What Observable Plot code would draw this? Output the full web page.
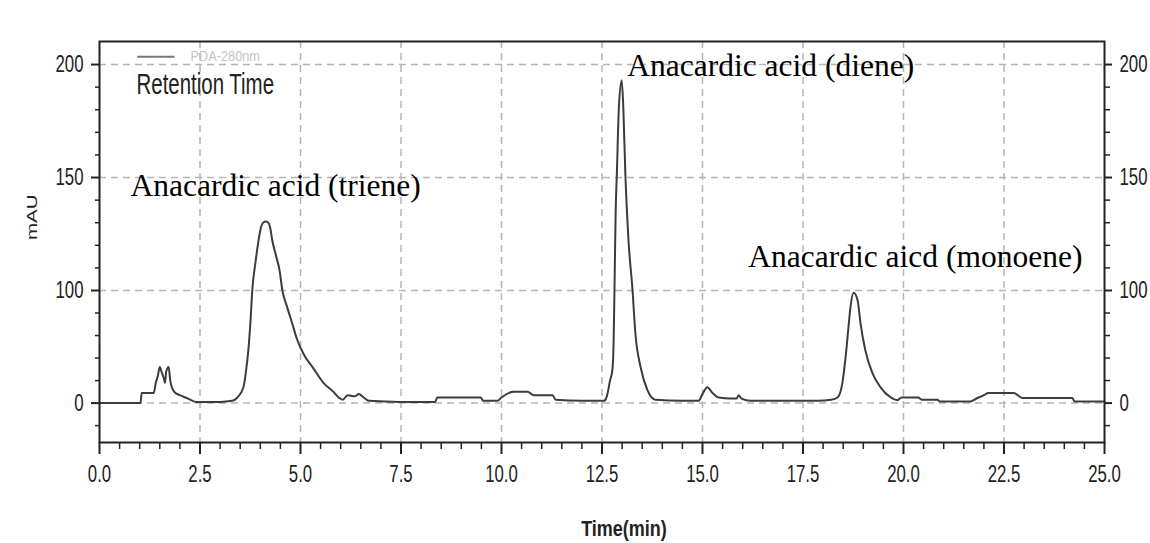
<!DOCTYPE html>
<html><head><meta charset="utf-8">
<script src="https://cdn.jsdelivr.net/npm/d3@7"></script>
<script src="https://cdn.jsdelivr.net/npm/@observablehq/plot@0.6"></script>
<style>
html,body{margin:0;padding:0;background:#fff;}
#chart svg{display:block;}
</style></head><body><div id="chart"></div>
<script>
// Retention time (min) and detector signal (mAU)
const time = [
  0.00, 1.02, 1.05, 1.35, 1.40, 1.45, 1.50, 1.55, 1.60, 1.63, 1.66, 1.72, 1.76, 1.80, 1.86, 2.00, 2.20, 2.40, 3.00, 3.30,
  3.43, 3.58, 3.65, 3.71, 3.76, 3.80, 3.88, 3.955, 4.005, 4.067, 4.13, 4.20, 4.25, 4.30, 4.39, 4.48, 4.55, 4.67, 4.80, 4.92,
  5.10, 5.30, 5.57, 5.82, 5.95, 6.05, 6.17, 6.35, 6.45, 6.57, 6.70, 7.50, 8.35, 8.40, 9.48, 9.55, 9.90, 10.00, 10.30, 10.65,
  10.80, 11.27, 11.35, 12.00, 12.55, 12.62, 12.70, 12.76, 12.79, 12.81, 12.84, 12.87, 12.92, 12.99, 13.03, 13.08, 13.16, 13.26, 13.33, 13.46,
  13.63, 13.83, 14.50, 14.90, 15.00, 15.12, 15.25, 15.40, 15.70, 15.85, 15.90, 15.97, 16.20, 17.86, 18.20, 18.36, 18.48, 18.56, 18.63, 18.68,
  18.76, 18.86, 18.93, 19.05, 19.23, 19.43, 19.68, 19.85, 19.95, 20.37, 20.45, 20.85, 20.90, 21.67, 21.84, 22.00, 22.11, 22.74, 22.96, 24.20,
  24.25, 25.00
];
const signal = [
  0, 0, 9, 9, 18, 24, 32, 27, 22, 18, 28, 32, 20, 14, 10, 7, 4, 1, 1, 2,
  5, 14, 30, 50, 75, 100, 112.4, 122, 127, 129.9, 130.5, 130, 127.4, 122, 115.5, 108.8, 100, 85, 70, 56,
  42, 32, 18, 10, 5, 3, 7, 6, 8, 5, 2, 1, 1, 5, 5, 2, 2, 5, 10, 10,
  7, 7, 3, 2, 2, 6, 20, 30, 56, 100, 135, 152, 181, 193, 181, 152, 122, 100, 62, 32,
  11.5, 3, 2, 2, 8, 14, 9, 5, 4, 4, 7, 4, 2, 2, 3, 5, 18, 41, 67, 85,
  98, 91, 71, 47, 26.5, 14, 5, 2.6, 5, 5, 3, 3, 1.5, 1.5, 4.5, 7, 9, 9, 4.5, 4.5,
  1.5, 1.5
];

// Axis ticks
const xTicks = [0, 2.5, 5, 7.5, 10, 12.5, 15, 17.5, 20, 22.5, 25];
const xMinor = d3.range(0, 25.001, 0.5).filter(v => Math.abs(v / 2.5 - Math.round(v / 2.5)) > 1e-6);
const yTicks = [0, 100, 150, 200];
const yMinor = [-20, 20, 40, 60, 80, 110, 120, 130, 140, 160, 170, 180, 190];

// Peak annotations
const peakLabels = ["Anacardic acid (triene)", "Anacardic acid (diene)", "Anacardic aicd (monoene)"];
const peakLabelTime = [0.77, 13.13, 16.14];
const peakLabelSignal = [142, 195, 110.6];

// Legend and axis titles
const legendSeries = "PDA-280nm";
const legendTitle = "Retention Time";
const legendSwatch = {t1: 0.95, t2: 1.88, v: 203.5};
const xTitle = "Time(min)";
const yTitle = "mAU";

const W = 1150, H = 543;
const mt = 41, mb = 101, ml = 99, mr = 46;
const yBreakPx = 290; // the chart's axis is compressed below 100

const trace = time.map((t, i) => ({t, v: signal[i]}));
const peaks = peakLabels.map((s, i) => ({s, t: peakLabelTime[i], v: peakLabelSignal[i]}));

const sans = '"Liberation Sans",Arial,sans-serif';
const serif = '"Liberation Serif","Times New Roman",serif';
const ink = "#222";
const grid = {stroke: "#b5b5b5", strokeOpacity: 1, strokeWidth: 1.5, strokeDasharray: "7,5"};
const tickFs = 23.4;

const chart = Plot.plot({
  width: W, height: H,
  marginTop: mt, marginBottom: mb, marginLeft: ml, marginRight: mr,
  style: {fontFamily: sans, fontSize: "20px", background: "#fff", color: ink, overflow: "visible"},
  x: {domain: [0, 25], label: null},
  y: {type: "linear", domain: [-35, 100, 210.2], range: [H - mb, yBreakPx, mt], label: null},
  marks: [
    Plot.gridX(xTicks.slice(1, -1), grid),
    Plot.gridY(yTicks, grid),
    Plot.line(trace, {x: "t", y: "v", stroke: "#3c3c3c", strokeWidth: 2, curve: "monotone-x"}),
    Plot.frame({stroke: ink, strokeWidth: 2}),
    Plot.axisX(xTicks, {anchor: "bottom", tickSize: 12, tickPadding: 11, tickFormat: d3.format(".1f"), fontSize: tickFs, label: null, strokeWidth: 2}),
    Plot.axisX(xMinor, {anchor: "bottom", tickSize: 7, tickFormat: () => "", label: null, strokeWidth: 1.5}),
    Plot.axisY(yTicks, {anchor: "left", tickSize: 8, tickPadding: 8, tickFormat: d => String(d), fontSize: tickFs, label: null, strokeWidth: 2}),
    Plot.axisY(yMinor, {anchor: "left", tickSize: 4, tickFormat: () => "", label: null, strokeWidth: 1.5}),
    Plot.axisY(yTicks, {anchor: "right", tickSize: 7, tickPadding: 8, tickFormat: d => String(d), fontSize: tickFs, label: null, strokeWidth: 2}),
    Plot.axisY(yMinor, {anchor: "right", tickSize: 5, tickFormat: () => "", label: null, strokeWidth: 1.5}),
    Plot.ruleY([legendSwatch], {x1: "t1", x2: "t2", y: "v", stroke: "#777", strokeWidth: 2}),
    Plot.text([legendSeries], {frameAnchor: "top-left", dx: 91, dy: 15, textAnchor: "start", lineAnchor: "middle", fontSize: 15, fill: "#c4c4c4"}),
    Plot.text([legendTitle], {frameAnchor: "top-left", dx: 37, dy: 52, textAnchor: "start", lineAnchor: "bottom", fontSize: 28.6, fill: ink}),
    Plot.text(peaks, {x: "t", y: "v", text: "s", textAnchor: "start", lineAnchor: "bottom", fontFamily: serif, fontSize: 31.5, fill: "#000"}),
    Plot.text([xTitle], {frameAnchor: "bottom", dx: 22, dy: 87, lineAnchor: "middle", fontSize: 21.8, fontWeight: "bold", fill: ink}),
    Plot.text([yTitle], {frameAnchor: "left", dx: -67, dy: -2, rotate: -90, lineAnchor: "middle", fontSize: 14.5, fill: ink})
  ]
});
document.getElementById("chart").appendChild(chart);

// Narrow lettering like the instrument's printout: compress glyphs in place
function narrowNodes(nodes, factor) {
  nodes.each(function() {
    if (!this.textContent) return;
    const len = this.getComputedTextLength();
    if (len > 0) {
      this.setAttribute("textLength", (len * factor).toFixed(2));
      this.setAttribute("lengthAdjust", "spacingAndGlyphs");
    }
  });
}
const allText = d3.select(chart).selectAll("text");
const byContent = s => allText.filter(function() { return this.textContent === s; });
narrowNodes(d3.select(chart).selectAll('g[aria-label$="tick label"] text'), 0.718);
narrowNodes(byContent(legendTitle), 0.715);
narrowNodes(byContent(legendSeries), 0.85);
narrowNodes(byContent(xTitle), 0.826);
narrowNodes(byContent(yTitle), 1.41);
</script>
</body></html>
